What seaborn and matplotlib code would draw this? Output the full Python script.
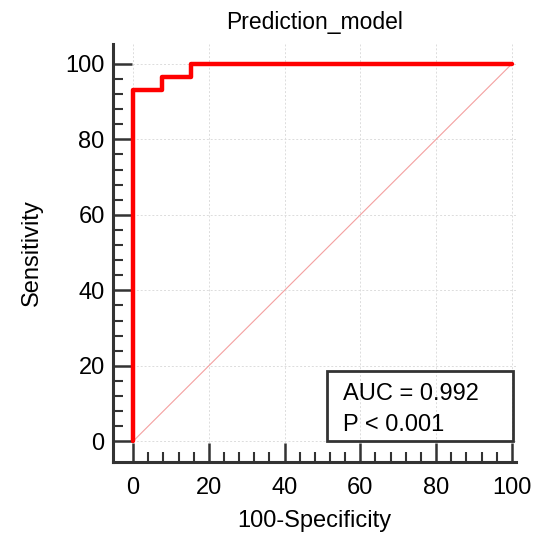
# ROC curve for the prediction model
import numpy as np
import pandas as pd
import matplotlib
matplotlib.use("Agg")
import matplotlib.pyplot as plt
import seaborn as sns
from matplotlib.patches import Rectangle
from matplotlib.ticker import FixedLocator

# ROC points (100-Specificity, Sensitivity)
fpr = [0, 0, 7.7, 7.7, 15.4, 15.4, 100]
tpr = [0, 93.1, 93.1, 96.6, 96.6, 100, 100]
ref_line = [0, 100]
auc_text = "AUC = 0.992"
p_text = "P < 0.001"
ticks = [0, 20, 40, 60, 80, 100]
minor_ticks = [v for v in range(4, 100, 4) if v % 20 != 0]

sns.set_style("white")
plt.rcParams["font.family"] = ["Liberation Sans", "DejaVu Sans"]
plt.rcParams["text.color"] = "black"
plt.rcParams["axes.labelcolor"] = "black"
plt.rcParams["xtick.color"] = "black"
plt.rcParams["ytick.color"] = "black"

roc = pd.DataFrame({"fpr": fpr, "tpr": tpr})

fig = plt.figure(figsize=(5.34, 5.34), dpi=100)
ax = fig.add_axes([0.2116, 0.1348, 0.754, 0.783])

ax.grid(True, color="#dcdcdc", linestyle=(0, (2, 2)), linewidth=0.7)
ax.set_axisbelow(True)

# diagonal reference line
sns.lineplot(x=ref_line, y=ref_line, color="#f4a0a0", linewidth=0.8, ax=ax)
sns.lineplot(data=roc, x="fpr", y="tpr", sort=False, estimator=None,
             color="#ff0000", linewidth=3.2, ax=ax)

ax.set_xlim(-5.3, 101)
ax.set_ylim(-5.5, 105.3)
ax.set_xticks(ticks)
ax.set_yticks(ticks)
ax.xaxis.set_minor_locator(FixedLocator(minor_ticks))
ax.yaxis.set_minor_locator(FixedLocator(minor_ticks))
ax.tick_params(which="major", direction="in", length=14, width=1.8,
               color="#333333", labelsize=17, pad=6)
ax.tick_params(which="minor", direction="in", length=7, width=1.5,
               color="#333333")
ax.tick_params(axis="x", which="major", pad=11)
ax.tick_params(axis="x", which="both", bottom=True)
ax.tick_params(axis="y", which="both", left=True)

for side in ["top", "right"]:
    ax.spines[side].set_visible(False)
for side in ["left", "bottom"]:
    ax.spines[side].set_linewidth(2.2)
    ax.spines[side].set_color("#333333")

# stats box
ax.add_patch(Rectangle((51.2, 0), 49.1, 18.6, fill=False,
                       edgecolor="#333333", linewidth=2, zorder=5))
ax.text(55.5, 12.5, auc_text, fontsize=17, va="center", zorder=6)
ax.text(55.5, 4.2, p_text, fontsize=17, va="center", zorder=6)

ax.set_title("Prediction_model", fontsize=16.5, pad=10.5)
ax.set_xlabel("100-Specificity", fontsize=17, labelpad=7.5)
ax.set_ylabel("Sensitivity", fontsize=17, labelpad=16)

fig.savefig("out.png", dpi=100)
